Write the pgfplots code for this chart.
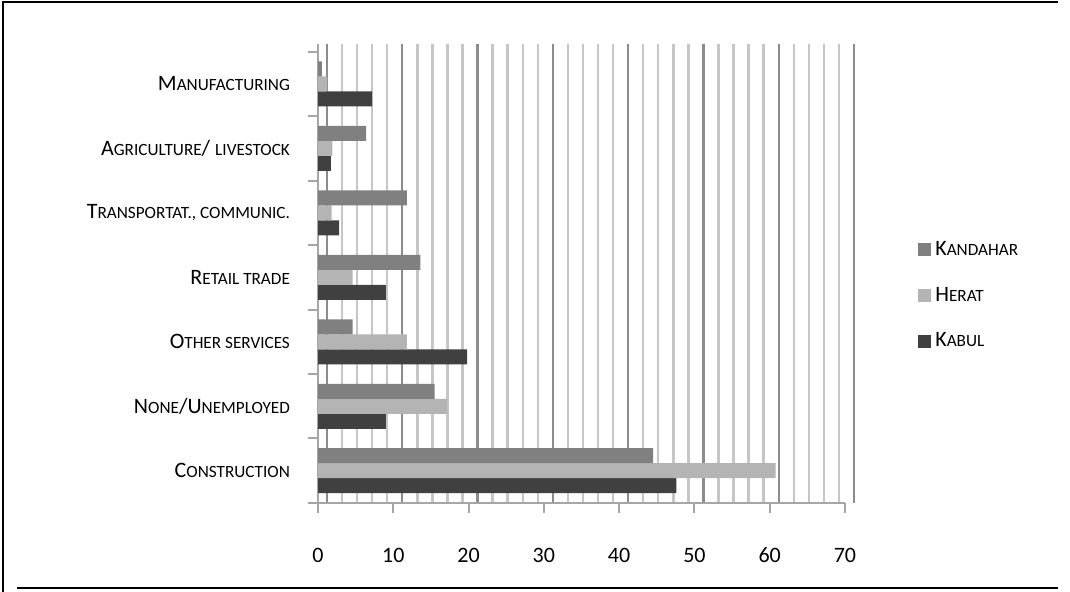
\documentclass[border=0pt]{standalone}
\usepackage{fontspec}
\setmainfont{Carlito}
\usepackage{pgfplots}
\pgfplotsset{compat=1.18}

\definecolor{kandahar}{HTML}{808080}
\definecolor{herat}{HTML}{B4B4B4}
\definecolor{kabul}{HTML}{404040}
\definecolor{axisgray}{HTML}{A6A6A6}
\definecolor{majgrid}{HTML}{8C8C8C}
\definecolor{mingrid}{HTML}{C6C6C6}

% small capitals built from two sizes
\newcommand\sm[1]{{\fontsize{8.6pt}{10pt}\selectfont #1}}

\begin{document}
\begin{tikzpicture}
\useasboundingbox (0,0) rectangle (535pt,296pt);
% outer frame
\draw[line width=1pt] (1.5pt,0) -- (1.5pt,295pt) -- (529pt,295pt);
\draw[line width=1pt] (8.5pt,2pt) -- (529pt,2pt);

\begin{axis}[
  at={(159pt,44.5pt)}, anchor=south west,
  scale only axis, width=263.5pt, height=229.6pt,
  xmin=0, xmax=70, ymin=-0.5, ymax=6.62,
  xbar=0pt, bar width=7.5pt,
  axis x line*=bottom, axis y line*=left,
  axis line style={-, draw=axisgray, line width=1pt},
  xtick={0,10,...,70},
  minor xtick={2,4,6,8,12,14,16,18,22,24,26,28,32,34,36,38,42,44,46,48,52,54,56,58,62,64,66,68},
  xmajorgrids, xminorgrids,
  major x grid style={draw=majgrid, line width=1.2pt, xshift=4.5pt},
  minor x grid style={draw=mingrid, line width=1.2pt, xshift=4.5pt},
  x tick style={draw=axisgray, line width=1pt},
  tick align=outside,
  major tick length=5pt, minor tick length=0pt,
  ytick={0,...,6},
  y tick style={draw=none},
  yticklabels={C\sm{ONSTRUCTION}, N\sm{ONE}/U\sm{NEMPLOYED}, O\sm{THER SERVICES},
    R\sm{ETAIL TRADE}, T\sm{RANSPORTAT., COMMUNIC.}, A\sm{GRICULTURE}/ \sm{LIVESTOCK},
    M\sm{ANUFACTURING}},
  extra y ticks={-0.5,0.5,1.5,2.5,3.5,4.5,5.5,6.5},
  extra y tick labels={},
  extra y tick style={y tick style={draw=axisgray, line width=1pt}, major tick length=5pt},
  ticklabel style={font=\fontsize{11pt}{13pt}\selectfont},
  /pgf/number format/assume math mode=true,
  yticklabel style={anchor=east, xshift=-5.5pt},
  xticklabel style={yshift=-14pt},
  legend style={draw=none, fill=none, at={(1.127,0.588)}, anchor=north west,
    font=\fontsize{11pt}{13pt}\selectfont, row sep=10.3pt,
    legend cell align=left},
  legend image code/.code={\fill[#1] (0pt,-3.25pt) rectangle (6.5pt,3.25pt);},
  reverse legend,
]
\addplot[fill=kabul, draw=none] coordinates {
  (47.6,0) (9.0,1) (19.8,2) (9.0,3) (2.8,4) (1.7,5) (7.2,6)};
\addplot[fill=herat, draw=none] coordinates {
  (60.8,0) (17.2,1) (11.8,2) (4.6,3) (1.8,4) (1.9,5) (1.2,6)};
\addplot[fill=kandahar, draw=none] coordinates {
  (44.5,0) (15.5,1) (4.6,2) (13.6,3) (11.8,4) (6.4,5) (0.5,6)};
\legend{K\sm{ABUL}, H\sm{ERAT}, K\sm{ANDAHAR}}
\end{axis}
\end{tikzpicture}
\end{document}
